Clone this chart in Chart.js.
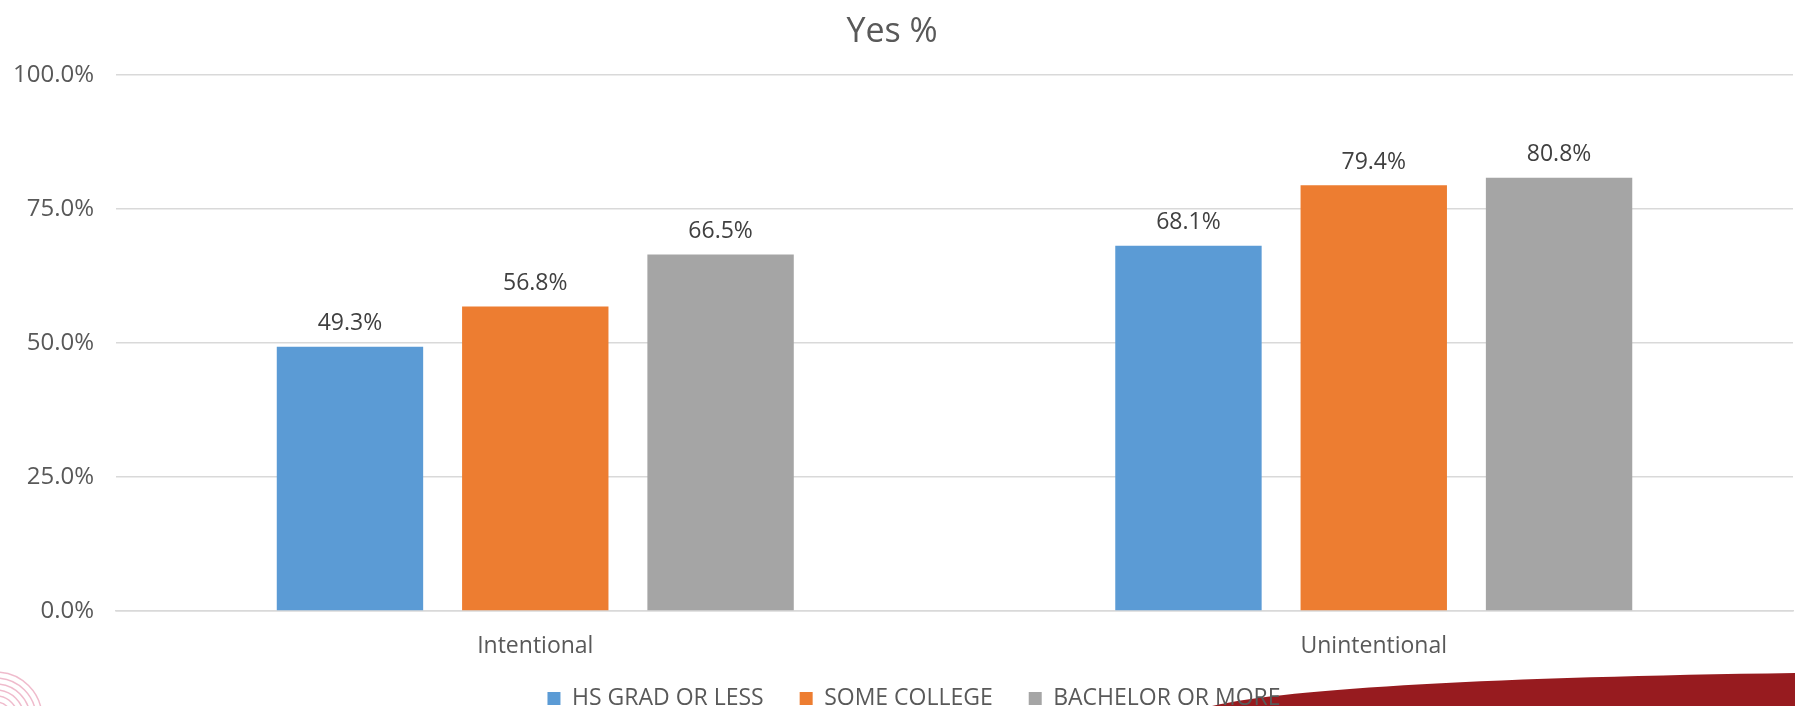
<!DOCTYPE html>
<html>
<head>
<meta charset="utf-8">
<script src="https://cdn.jsdelivr.net/npm/chart.js@4.4.1/dist/chart.umd.min.js"></script>
<style>
  html, body { margin: 0; padding: 0; background: #fff; }
  #wrap { width: 1795px; height: 706px; position: relative; }
</style>
</head>
<body>
<div id="wrap"><canvas id="myChart"></canvas></div>
<script>
const categories = ['Intentional', 'Unintentional'];
const seriesNames = ['HS GRAD OR LESS', 'SOME COLLEGE', 'BACHELOR OR MORE'];
const hsGrad = [49.3, 68.1];
const someCollege = [56.8, 79.4];
const bachelor = [66.5, 80.8];
const yTicks = [0, 25, 50, 75, 100];

const colors = ['#5B9BD5', '#ED7D31', '#A5A5A5'];
const FONT = "'Open Sans', 'Noto Sans', sans-serif";

// value labels above each bar
const barLabels = {
  id: 'barLabels',
  afterDatasetsDraw(chart) {
    const ctx = chart.ctx;
    ctx.save();
    ctx.font = '23px ' + FONT;
    ctx.fillStyle = '#404040';
    ctx.textAlign = 'center';
    ctx.textBaseline = 'middle';
    chart.data.datasets.forEach((ds, i) => {
      chart.getDatasetMeta(i).data.forEach((bar, j) => {
        ctx.fillText(ds.data[j].toFixed(1) + '%', bar.x, bar.y - 23);
      });
    });
    ctx.restore();
  }
};

// nudge the legend a little to the right, like the original slide
const legendShift = {
  id: 'legendShift',
  afterLayout(chart) {
    chart.legend.left += 22;
    chart.legend.right += 22;
  }
};

// slide decoration: maroon swoosh bottom right, faint logo bottom left
const decor = {
  id: 'decor',
  beforeDraw(chart) {
    const ctx = chart.ctx;
    ctx.save();
    ctx.fillStyle = '#971B1F';
    ctx.beginPath();
    ctx.moveTo(1212, 706);
    ctx.bezierCurveTo(1290, 688, 1500, 677, 1795, 673);
    ctx.lineTo(1795, 706);
    ctx.closePath();
    ctx.fill();
    ctx.strokeStyle = 'rgba(210, 60, 110, 0.35)';
    ctx.lineWidth = 1.5;
    for (let r = 10; r <= 46; r += 6) {
      ctx.beginPath();
      ctx.arc(-4, 718, r, -Math.PI / 2, 0);
      ctx.stroke();
    }
    ctx.restore();
  }
};

const data = {
  labels: categories,
  datasets: [
    { label: seriesNames[0], data: hsGrad, backgroundColor: colors[0] },
    { label: seriesNames[1], data: someCollege, backgroundColor: colors[1] },
    { label: seriesNames[2], data: bachelor, backgroundColor: colors[2] }
  ]
};

const config = {
  type: 'bar',
  data,
  plugins: [decor, legendShift, barLabels],
  options: {
    responsive: true,
    maintainAspectRatio: false,
    animation: false,
    devicePixelRatio: 1,
    categoryPercentage: 0.663,
    barPercentage: 0.79,
    layout: { padding: { left: -9, right: 2, top: 0, bottom: -14 } },
    plugins: {
      title: {
        display: true,
        text: 'Yes %',
        color: '#595959',
        font: { family: FONT, size: 34, weight: 'normal' },
        padding: { top: 12, bottom: 22 }
      },
      legend: {
        position: 'bottom',
        labels: {
          color: '#595959',
          font: { family: FONT, size: 23 },
          boxWidth: 13,
          boxHeight: 13,
          padding: 24,
          generateLabels(chart) {
            const items = Chart.defaults.plugins.legend.labels.generateLabels(chart);
            items.forEach((it, i) => { if (i < items.length - 1) it.text += '  '; });
            return items;
          }
        }
      },
      tooltip: { enabled: false }
    },
    scales: {
      x: {
        grid: { display: false },
        border: { color: '#D9D9D9', width: 1.5 },
        ticks: { color: '#595959', font: { family: FONT, size: 23 }, padding: 14 },
        afterFit(scale) { scale.height = 52; }
      },
      y: {
        min: 0,
        max: 100,
        afterBuildTicks(scale) { scale.ticks = yTicks.map(v => ({ value: v })); },
        grid: { color: '#D9D9D9', lineWidth: 1.5, drawTicks: false },
        border: { display: false },
        ticks: {
          color: '#595959',
          font: { family: FONT, size: 24 },
          padding: 22,
          callback: v => v.toFixed(1) + '%'
        }
      }
    }
  }
};

const myChart = new Chart(document.getElementById('myChart'), config);
</script>
</body>
</html>
